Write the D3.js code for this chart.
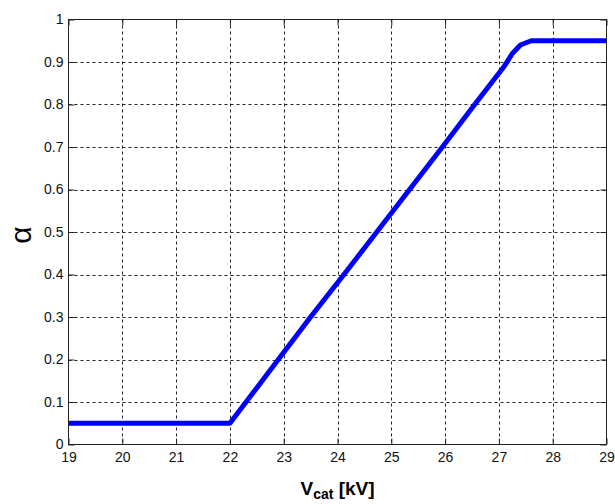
<!DOCTYPE html>
<html><head><meta charset="utf-8">
<script src="https://cdn.jsdelivr.net/npm/d3@7"></script>
<style>body{margin:0;background:#fff}svg{display:block}</style>
</head><body>
<svg id="c" width="615" height="504"></svg>
<script>
const voltage = [19, 22, 22.3, 22.9, 23.5, 24.12, 24.73, 25.34, 25.95, 26.55, 27.1, 27.25, 27.4, 27.6, 29];
const alpha   = [0.05, 0.05, 0.1, 0.2, 0.3, 0.4, 0.5, 0.6, 0.7, 0.8, 0.89, 0.92, 0.94, 0.95, 0.95];
const xTicks = [19, 20, 21, 22, 23, 24, 25, 26, 27, 28, 29];
const yTicks = [0, 0.1, 0.2, 0.3, 0.4, 0.5, 0.6, 0.7, 0.8, 0.9, 1];

const svg = d3.select("#c");
const L = 68.5, R = 606.5, T = 19.5, B = 444.5;
const x = d3.scaleLinear().domain([19, 29]).range([L, R]);
const y = d3.scaleLinear().domain([0, 1]).range([B, T]);
const font = "'Liberation Sans', Arial, sans-serif";

// grid
const g = svg.append("g");
g.selectAll("line.vg").data(xTicks.slice(1, -1)).enter().append("line")
  .attr("x1", d => Math.round(x(d)) + 0.5).attr("x2", d => Math.round(x(d)) + 0.5)
  .attr("y1", T).attr("y2", B)
  .attr("stroke", "#222").attr("stroke-width", 1).attr("stroke-dasharray", "3,3");
g.selectAll("line.hg").data(yTicks.slice(1, -1)).enter().append("line")
  .attr("y1", d => Math.round(y(d)) + 0.5).attr("y2", d => Math.round(y(d)) + 0.5)
  .attr("x1", L).attr("x2", R)
  .attr("stroke", "#222").attr("stroke-width", 1).attr("stroke-dasharray", "3,3");

// data line
svg.append("path").datum(voltage.map((v, i) => [v, alpha[i]]))
  .attr("d", d3.line().x(d => x(d[0])).y(d => y(d[1])))
  .attr("fill", "none").attr("stroke", "#0000ff").attr("stroke-width", 5)
  .attr("stroke-linejoin", "round");

// axes
const ax = (sel) => sel.call(s => s.select(".domain").remove())
  .call(s => s.selectAll(".tick line").attr("stroke", "#222"))
  .call(s => s.selectAll(".tick text").attr("font-family", font).attr("font-size", 14).attr("fill", "#111"));

svg.append("g").attr("transform", `translate(0,${B})`)
  .call(d3.axisBottom(x).tickValues(xTicks).tickFormat(d3.format("d")).tickSizeInner(-6).tickSizeOuter(0).tickPadding(8))
  .call(ax);
svg.append("g").attr("transform", `translate(0,${T})`)
  .call(d3.axisTop(x).tickValues(xTicks).tickFormat("").tickSizeInner(-6).tickSizeOuter(0))
  .call(ax);
svg.append("g").attr("transform", `translate(${L},0)`)
  .call(d3.axisLeft(y).tickValues(yTicks).tickFormat(d => d === 0 ? "0" : d === 1 ? "1" : d3.format(".1f")(d)).tickSizeInner(-6).tickSizeOuter(0).tickPadding(5))
  .call(ax);
svg.append("g").attr("transform", `translate(${R},0)`)
  .call(d3.axisRight(y).tickValues(yTicks).tickFormat("").tickSizeInner(-6).tickSizeOuter(0))
  .call(ax);

// box
svg.append("rect").attr("x", L).attr("y", T).attr("width", R - L).attr("height", B - T)
  .attr("fill", "none").attr("stroke", "#222").attr("stroke-width", 1);

// labels
const xl = svg.append("text").attr("x", (L + R) / 2).attr("y", 495)
  .attr("text-anchor", "middle").attr("font-family", font).attr("font-weight", "bold")
  .attr("font-size", 19).attr("fill", "#000");
xl.append("tspan").text("V");
xl.append("tspan").attr("font-size", 14).attr("dy", 4).text("cat");
xl.append("tspan").attr("dy", -4).text(" [kV]");

svg.append("text").attr("transform", "translate(31,235) rotate(-90)")
  .attr("text-anchor", "middle").attr("font-family", font).attr("font-size", 30)
  .attr("fill", "#000").text("α");
</script>
</body></html>
